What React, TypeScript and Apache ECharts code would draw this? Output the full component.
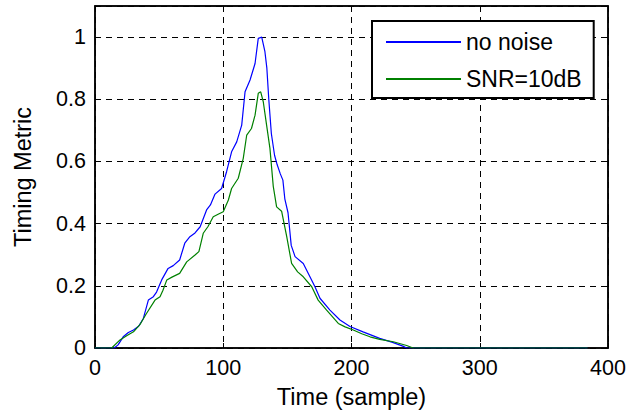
import React, { useEffect, useRef } from "react";
import * as echarts from "echarts";

const seriesNames = ["no noise", "SNR=10dB"];

const blueTime = [0, 15, 18, 22, 26, 30, 34, 37.7, 41.6, 45.5, 48, 52, 57, 61, 66, 70, 74, 78, 82, 87, 90, 93.6, 98.7, 102.6, 106.5, 110.5, 114.4, 117, 120.9, 124.8, 127.3, 130, 132.5, 134, 135.5, 137.5, 140, 142, 144.5, 146.5, 148, 150.5, 153, 156, 162.4, 167.6, 171.5, 175.4, 183.2, 191, 198.8, 209, 222, 232, 240, 243, 384];
const blueValue = [0, 0, 0.01, 0.036, 0.05, 0.058, 0.07, 0.095, 0.154, 0.165, 0.18, 0.219, 0.256, 0.265, 0.283, 0.337, 0.358, 0.37, 0.39, 0.444, 0.46, 0.495, 0.513, 0.567, 0.631, 0.663, 0.717, 0.824, 0.862, 0.915, 0.996, 1.0, 0.953, 0.9, 0.8, 0.69, 0.62, 0.59, 0.56, 0.54, 0.48, 0.435, 0.33, 0.294, 0.272, 0.229, 0.197, 0.16, 0.122, 0.09, 0.069, 0.052, 0.031, 0.018, 0.006, 0, 0];

const greenTime = [0, 13, 19.5, 25, 30, 35, 40, 46.8, 50.7, 53, 56, 60, 66, 71.5, 78, 81, 84.4, 88, 92.2, 96, 100, 104, 106.5, 111.7, 115.6, 118.3, 122, 124.8, 127.3, 129.2, 131.2, 133.8, 136.4, 139, 141.6, 145.5, 149.5, 153.3, 158, 162.4, 169, 174, 180.6, 189.7, 195, 201.4, 208, 214.4, 222, 232.6, 243, 248, 384];
const greenValue = [0, 0, 0.026, 0.04, 0.052, 0.075, 0.11, 0.154, 0.165, 0.186, 0.219, 0.228, 0.24, 0.277, 0.299, 0.31, 0.369, 0.39, 0.422, 0.43, 0.438, 0.476, 0.513, 0.546, 0.61, 0.685, 0.706, 0.749, 0.819, 0.824, 0.792, 0.717, 0.642, 0.52, 0.454, 0.44, 0.358, 0.272, 0.245, 0.229, 0.197, 0.154, 0.122, 0.079, 0.068, 0.058, 0.046, 0.036, 0.028, 0.02, 0.008, 0, 0];

const xTicks = { min: 0, max: 400, interval: 100 };
const yTicks = { min: 0, max: 1.1, interval: 0.2 };

const FONT = "Liberation Sans";

export default function App() {
  const ref = useRef<HTMLDivElement>(null);
  useEffect(() => {
    if (!ref.current) return;
    const chart = echarts.init(ref.current, undefined, { renderer: "svg" });
    const blueData = blueTime.map((t, i) => [t, blueValue[i]]);
    const greenData = greenTime.map((t, i) => [t, greenValue[i]]);
    const gridLine = { show: true, lineStyle: { color: "#000", width: 1, type: [6, 5] as any } };
    chart.setOption({
      animation: false,
      backgroundColor: "#fff",
      grid: {
        left: 95, top: 6, right: 21, bottom: 68,
        show: true, borderColor: "#000", borderWidth: 1.5, backgroundColor: "#fff",
      },
      legend: {
        orient: "vertical",
        left: 372,
        top: 21,
        padding: [9, 12, 7, 14],
        itemWidth: 75,
        itemHeight: 2,
        itemGap: 13,
        backgroundColor: "#fff",
        borderColor: "#000",
        borderWidth: 2,
        borderRadius: 0,
        textStyle: { fontFamily: FONT, fontSize: 23, color: "#000", lineHeight: 24 },
        data: [
          { name: seriesNames[0], icon: "rect" },
          { name: seriesNames[1], icon: "rect" },
        ],
      },
      xAxis: [
        {
          type: "value",
          ...xTicks,
          position: "bottom",
          name: "Time (sample)",
          nameLocation: "middle",
          nameGap: 37,
          nameTextStyle: { fontFamily: FONT, fontSize: 23.5, color: "#000" },
          axisLine: { show: true, onZero: false, lineStyle: { color: "#000", width: 1.5 } },
          axisTick: { show: true, inside: true, length: 5, lineStyle: { color: "#000" } },
          axisLabel: { fontFamily: FONT, fontSize: 21.5, color: "#000", margin: 9, showMaxLabel: true, showMinLabel: true },
          splitLine: gridLine,
        },
        {
          type: "value",
          ...xTicks,
          position: "top",
          axisLine: { show: true, onZero: false, lineStyle: { color: "#000", width: 1.5 } },
          axisTick: { show: true, inside: true, length: 5, lineStyle: { color: "#000" } },
          axisLabel: { show: false },
          splitLine: { show: false },
        },
      ],
      yAxis: [
        {
          type: "value",
          ...yTicks,
          position: "left",
          name: "Timing Metric",
          nameLocation: "middle",
          nameGap: 60,
          nameTextStyle: { fontFamily: FONT, fontSize: 23.5, color: "#000" },
          axisLine: { show: true, onZero: false, lineStyle: { color: "#000", width: 1.5 } },
          axisTick: { show: true, inside: true, length: 5, lineStyle: { color: "#000" } },
          axisLabel: { fontFamily: FONT, fontSize: 21.5, color: "#000", margin: 9, showMaxLabel: false },
          splitLine: gridLine,
        },
        {
          type: "value",
          ...yTicks,
          position: "right",
          axisLine: { show: true, onZero: false, lineStyle: { color: "#000", width: 1.5 } },
          axisTick: { show: true, inside: true, length: 5, lineStyle: { color: "#000" } },
          axisLabel: { show: false },
          splitLine: { show: false },
        },
      ],
      series: [
        {
          name: seriesNames[0],
          type: "line",
          data: blueData,
          showSymbol: false,
          symbol: "none",
          lineStyle: { color: "#0000ff", width: 1.2 },
          itemStyle: { color: "#0000ff" },
          z: 3,
        },
        {
          name: seriesNames[1],
          type: "line",
          data: greenData,
          showSymbol: false,
          symbol: "none",
          lineStyle: { color: "#008000", width: 1.2 },
          itemStyle: { color: "#008000" },
          z: 4,
        },
      ],
    });
    return () => chart.dispose();
  }, []);
  return <div ref={ref} style={{ width: 629, height: 416, position: "absolute", left: 0, top: 0 }} />;
}
